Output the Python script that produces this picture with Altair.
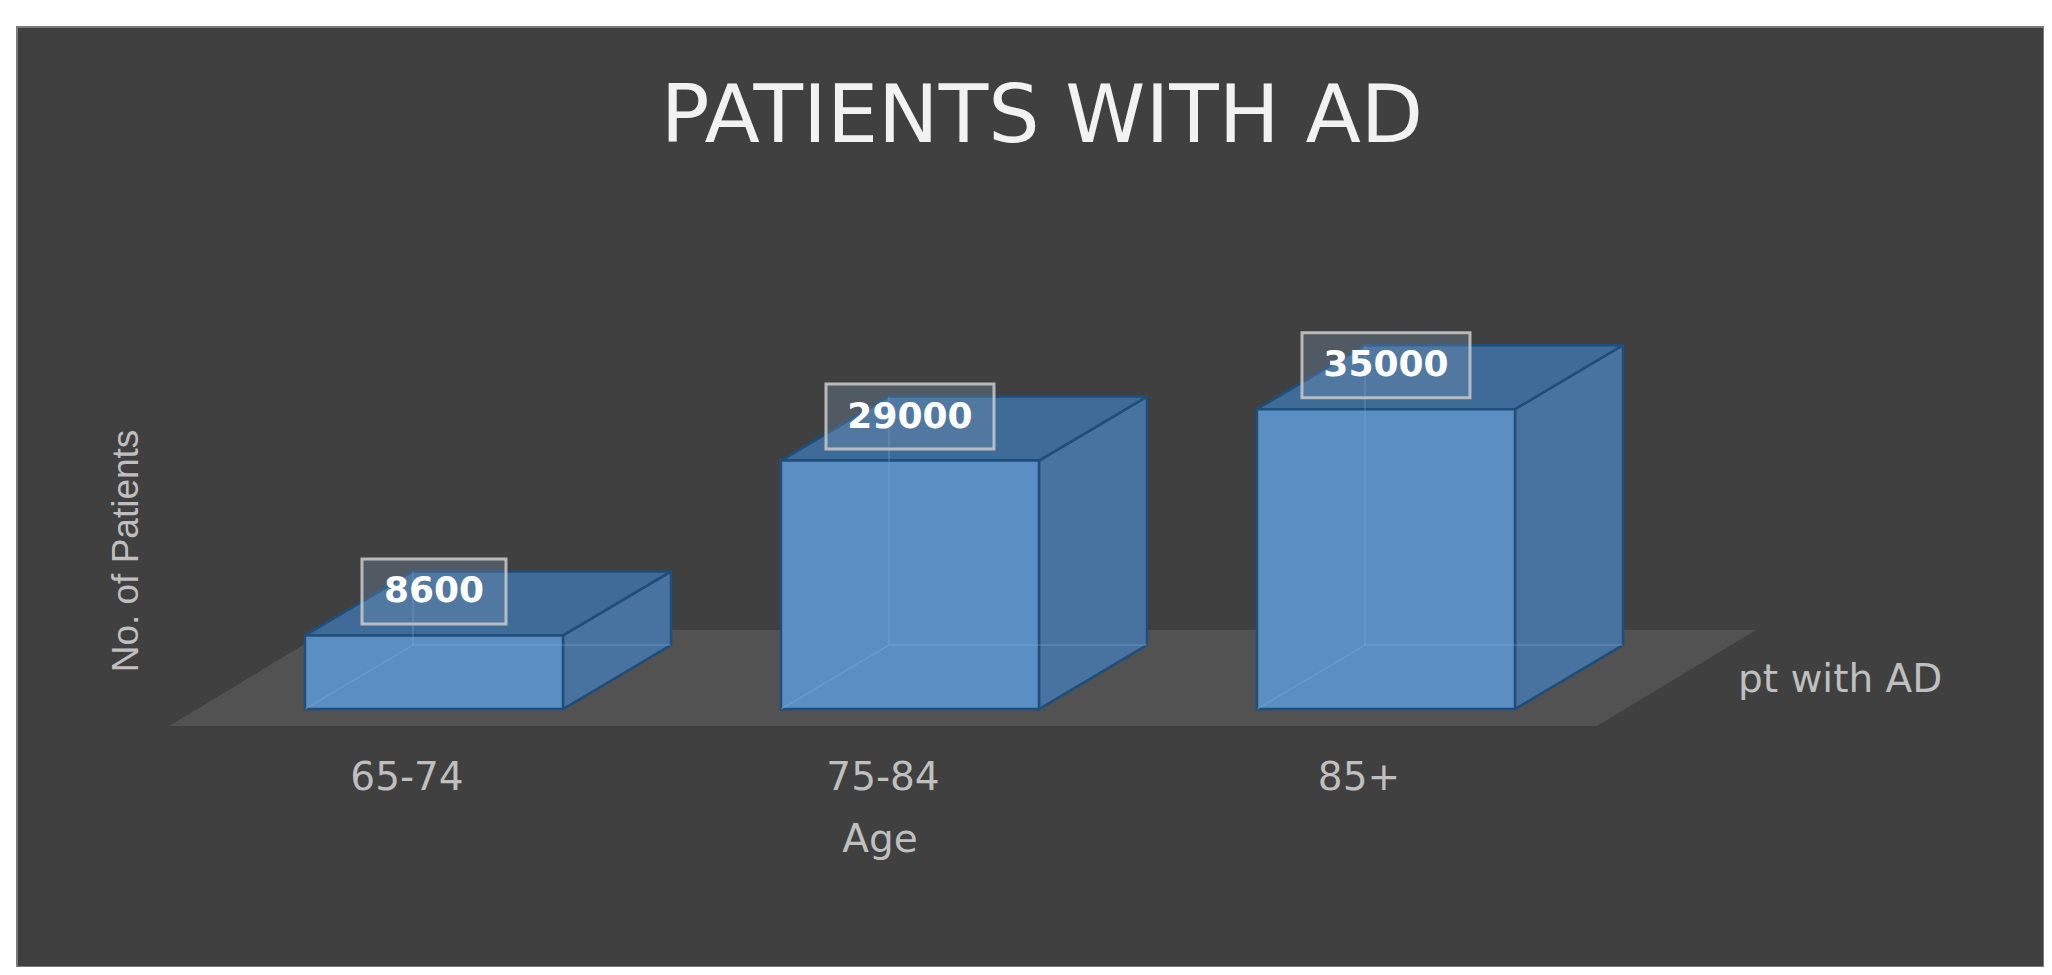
import altair as alt
import pandas as pd

# ---------------- data ----------------
AGE_GROUPS = ["65-74", "75-84", "85+"]
PATIENTS = [8600, 29000, 35000]
TITLE = "PATIENTS WITH AD"
X_TITLE = "Age"
Y_TITLE = "No. of Patients"
SERIES = "pt with AD"

# ---------------- layout / style ----------------
VIEW_W, VIEW_H = 2027, 940
X_DOM = [-0.8193, 3.4391]          # category slots (0, 1, 2)
Y_DOM = [-30100, 79600]            # number of patients
PX_X = VIEW_W / (X_DOM[1] - X_DOM[0])
PX_Y = VIEW_H / (Y_DOM[1] - Y_DOM[0])

BAR_W = 258 / PX_X                 # front face width
BAR_SHIFT = 27 / PX_X              # oblique shift of bar front from slot centre
BAR_DX, BAR_DY = 108 / PX_X, 64 / PX_Y          # bar depth
FLOOR_DX, FLOOR_DY = 159 / PX_X, 96 / PX_Y      # floor depth
FLOOR_DROP = 17 / PX_Y
LBL_OFF = 44 / PX_Y
LBL_HH = 32.5 / PX_Y

BG = "#404040"
FLOOR = "#525252"
FRONT = "#5B8FC3"
SIDE = "#4873A0"
TOP = "#3F6B98"
EDGE = "#1F4E7A"
TXT = "#BFBFBF"

xs = alt.Scale(domain=X_DOM, nice=False, zero=False)
ys = alt.Scale(domain=Y_DOM, nice=False, zero=False)

front, side, top, edges, labels = [], [], [], [], []
for i, (g, v) in enumerate(zip(AGE_GROUPS, PATIENTS)):
    xl = i - BAR_W / 2 + BAR_SHIFT
    xr = i + BAR_W / 2 + BAR_SHIFT
    front.append(dict(bar=g, x=xl, x2=xr, y=0, y2=v))
    side.append(dict(bar=g, x=xr, y=0, y2=v))
    side.append(dict(bar=g, x=xr + BAR_DX, y=BAR_DY, y2=v + BAR_DY))
    top.append(dict(bar=g, y=v, x=xl, x2=xr))
    top.append(dict(bar=g, y=v + BAR_DY, x=xl + BAR_DX, x2=xr + BAR_DX))
    pts = {
        "a": [(xl, 0), (xl + BAR_DX, BAR_DY)],
        "b": [(xl + BAR_DX, BAR_DY), (xl + BAR_DX, v + BAR_DY)],
        "c": [(xl + BAR_DX, BAR_DY), (xr + BAR_DX, BAR_DY)],
    }
    for k, seg in pts.items():
        for o, (px, py) in enumerate(seg):
            edges.append(dict(e=f"{g}{k}", o=o, x=px, y=py))
    txt = str(v)
    hw = (12 * len(txt) + 24) / PX_X
    cx = i + BAR_SHIFT
    labels.append(dict(bar=g, x=cx, xa=cx - hw, xb=cx + hw,
                       y=v + LBL_OFF, ya=v + LBL_OFF - LBL_HH, yb=v + LBL_OFF + LBL_HH,
                       t=txt))

n = len(AGE_GROUPS)
floor_df = pd.DataFrame([
    dict(y=-FLOOR_DROP, x=-0.5, x2=n - 0.5),
    dict(y=-FLOOR_DROP + FLOOR_DY, x=-0.5 + FLOOR_DX, x2=n - 0.5 + FLOOR_DX),
])
front_df = pd.DataFrame(front)
side_df = pd.DataFrame(side)
top_df = pd.DataFrame(top)
edge_df = pd.DataFrame(edges)
lab_df = pd.DataFrame(labels)
cat_df = pd.DataFrame({"g": AGE_GROUPS, "i": list(range(n))})

floor_l = alt.Chart(floor_df).mark_area(orient="horizontal", fill=FLOOR).encode(
    y=alt.Y("y:Q", scale=ys, axis=None),
    x=alt.X("x:Q", scale=xs, axis=None), x2="x2:Q")

side_l = alt.Chart(side_df).mark_area(orient="vertical", fill=SIDE, stroke=EDGE,
                                      strokeWidth=2.5, strokeJoin="round").encode(
    x=alt.X("x:Q", scale=xs, axis=None),
    y=alt.Y("y:Q", scale=ys, axis=None), y2="y2:Q", detail="bar:N")

top_l = alt.Chart(top_df).mark_area(orient="horizontal", fill=TOP, stroke=EDGE,
                                    strokeWidth=2.5, strokeJoin="round").encode(
    y=alt.Y("y:Q", scale=ys, axis=None),
    x=alt.X("x:Q", scale=xs, axis=None), x2="x2:Q", detail="bar:N")

front_l = alt.Chart(front_df).mark_rect(fill=FRONT, stroke=EDGE, strokeWidth=2.5).encode(
    x=alt.X("x:Q", scale=xs, axis=None), x2="x2:Q",
    y=alt.Y("y:Q", scale=ys, axis=None), y2="y2:Q")

edge_l = alt.Chart(edge_df).mark_line(color="#7FB0E0", strokeWidth=1.5, opacity=0.35).encode(
    x=alt.X("x:Q", scale=xs, axis=None),
    y=alt.Y("y:Q", scale=ys, axis=None), detail="e:N", order="o:Q")

box_l = alt.Chart(lab_df).mark_rect(fill="#7F9CBC", fillOpacity=0.28, stroke="#C4C4C4",
                                    strokeWidth=3, strokeOpacity=0.9).encode(
    x=alt.X("xa:Q", scale=xs, axis=None), x2="xb:Q",
    y=alt.Y("ya:Q", scale=ys, axis=None), y2="yb:Q")

lab_l = alt.Chart(lab_df).mark_text(font="DejaVu Sans", fontWeight="bold", fontSize=36,
                                    color="white", baseline="middle", align="center").encode(
    x=alt.X("x:Q", scale=xs, axis=None),
    y=alt.Y("y:Q", scale=ys, axis=None), text="t:N")

cat_l = alt.Chart(cat_df).mark_text(font="DejaVu Sans", fontSize=39, color=TXT,
                                    baseline="middle", align="center").encode(
    x=alt.X("i:Q", scale=xs, axis=None), y=alt.value(751), text="g:N")

def free_text(s, x, y, size, color, font="DejaVu Sans", angle=0, align="center"):
    return alt.Chart(pd.DataFrame({"t": [s]})).mark_text(
        font=font, fontSize=size, color=color, baseline="middle", align=align, angle=angle
    ).encode(x=alt.value(x), y=alt.value(y), text="t:N")

title_l = free_text(TITLE, 1025, 91, 81, "#F2F2F2")
xt_l = free_text(X_TITLE, 863, 813, 39, TXT)
yt_l = free_text(Y_TITLE, 110, 524, 37, TXT, font="Liberation Sans", angle=270)
ser_l = free_text(SERIES, 1721, 653, 39, TXT, align="left")

chart = alt.layer(
    floor_l, side_l, top_l, front_l, edge_l, box_l, lab_l, cat_l, title_l, xt_l, yt_l, ser_l
).properties(
    width=VIEW_W, height=VIEW_H,
    autosize=alt.AutoSizeParams(type="none"),
    padding={"left": 9, "top": 19, "right": 0, "bottom": 0},
    background="white",
).configure_view(fill=BG, stroke="#7A7A7A", strokeWidth=2)

chart.save("out.html", embed_options={"renderer": "svg", "actions": False})
